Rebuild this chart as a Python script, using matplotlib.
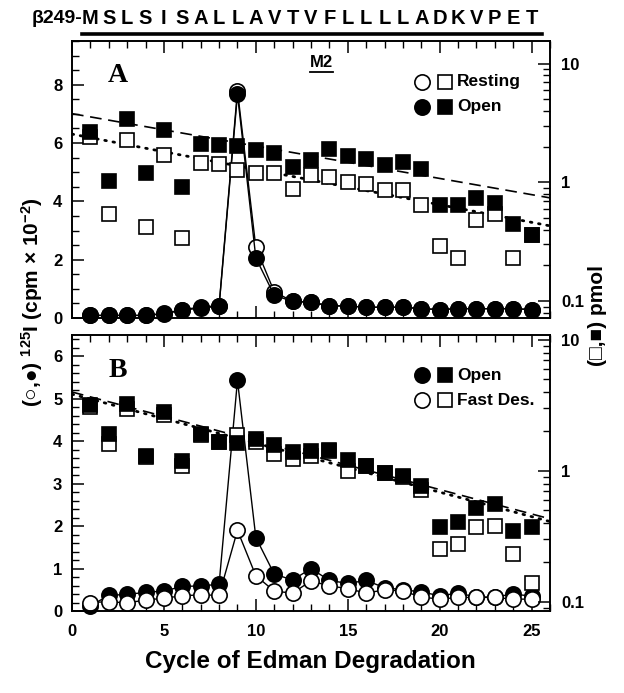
import matplotlib
matplotlib.use('Agg')
import matplotlib.pyplot as plt
import matplotlib.transforms as mtransforms
from matplotlib.lines import Line2D
from matplotlib.ticker import MultipleLocator, FixedLocator, LogLocator, NullFormatter, FixedFormatter

FONT = ['Liberation Sans', 'DejaVu Sans']
plt.rcParams['font.family'] = FONT
plt.rcParams['font.weight'] = 'bold'
plt.rcParams['mathtext.fontset'] = 'custom'
plt.rcParams['mathtext.rm'] = 'Liberation Sans:bold'
plt.rcParams['mathtext.bf'] = 'Liberation Sans:bold'
plt.rcParams['mathtext.it'] = 'Liberation Sans:bold'
plt.rcParams['axes.linewidth'] = 1.2

# ---------------- data ----------------
cycles = [1, 2, 3, 4, 5, 6, 7, 8, 9, 10, 11, 12, 13, 14, 15, 16, 17, 18, 19, 20, 21, 22, 23, 24, 25]
sequence = ['M', 'S', 'L', 'S', 'I', 'S', 'A', 'L', 'L', 'A', 'V', 'T', 'V', 'F', 'L',
            'L', 'L', 'L', 'A', 'D', 'K', 'V', 'P', 'E', 'T']

# Panel A: 125I cpm x 10^-2 (left axis)
A_resting_cpm = [0.09, 0.09, 0.09, 0.09, 0.16, 0.28, 0.38, 0.42, 7.80, 2.42, 0.90, 0.57, 0.54,
                 0.42, 0.41, 0.37, 0.37, 0.37, 0.32, 0.29, 0.32, 0.32, 0.32, 0.32, 0.29]
A_open_cpm = [0.09, 0.09, 0.09, 0.09, 0.14, 0.27, 0.34, 0.40, 7.67, 2.06, 0.78, 0.57, 0.54,
              0.42, 0.41, 0.37, 0.37, 0.37, 0.32, 0.29, 0.32, 0.32, 0.32, 0.32, 0.29]
# Panel A: pmol (right axis)
A_resting_pmol = [2.39, 0.54, 2.28, 0.42, 1.70, 0.34, 1.46, 1.44, 1.27, 1.20, 1.19, 0.88, 1.15,
                  1.12, 1.01, 0.97, 0.86, 0.87, 0.64, 0.29, 0.23, 0.48, 0.54, 0.23, 0.36]
A_open_pmol = [2.63, 1.03, 3.44, 1.21, 2.75, 0.92, 2.12, 2.07, 2.03, 1.87, 1.76, 1.34, 1.55,
               1.90, 1.67, 1.57, 1.41, 1.47, 1.29, 0.65, 0.65, 0.74, 0.67, 0.45, 0.36]

# Panel B
B_open_cpm = [0.12, 0.37, 0.39, 0.44, 0.47, 0.58, 0.59, 0.63, 5.43, 1.73, 0.87, 0.73, 1.00,
              0.72, 0.65, 0.72, 0.55, 0.50, 0.45, 0.36, 0.42, 0.33, 0.33, 0.40, 0.35]
B_fast_cpm = [0.20, 0.22, 0.19, 0.26, 0.30, 0.36, 0.38, 0.37, 1.90, 0.83, 0.47, 0.42, 0.71,
              0.59, 0.53, 0.42, 0.50, 0.47, 0.33, 0.28, 0.32, 0.32, 0.32, 0.28, 0.28]
B_open_pmol = [3.18, 1.91, 3.24, 1.30, 2.83, 1.19, 1.91, 1.65, 1.63, 1.75, 1.57, 1.40, 1.42,
               1.43, 1.21, 1.09, 0.96, 0.92, 0.77, 0.37, 0.41, 0.52, 0.56, 0.35, 0.37]
B_fast_pmol = [3.05, 1.60, 2.96, 1.28, 2.69, 1.09, 1.88, 1.65, 1.88, 1.67, 1.34, 1.23, 1.30,
               1.42, 1.00, 1.09, 0.96, 0.90, 0.72, 0.255, 0.275, 0.37, 0.38, 0.23, 0.138]

# exponential fit lines (end points at cycle 0 and 26)
fit_x = [0, 26]
A_open_fit = [3.79, 0.74]
A_resting_fit = [2.55, 0.43]
B_open_fit = [4.00, 0.43]
B_fast_fit = [3.85, 0.41]

x_ticks = [0, 5, 10, 15, 20, 25]
log_ticks = [0.1, 1, 10]
log_labels = ['0.1', '1', '10']

# ---------------- figure ----------------
fig = plt.figure(figsize=(6.24, 6.93), dpi=100)
axA = fig.add_axes([0.1154, 0.5411, 0.766, 0.3997])
axB = fig.add_axes([0.1154, 0.1183, 0.766, 0.3983])

TICK_FS = 12
MS_C = 11
MS_S = 9.5
MEW = 1.2

filled_c = dict(marker='o', ms=MS_C, mfc='black', mec='black', mew=MEW)
open_c = dict(marker='o', ms=MS_C, mfc='white', mec='black', mew=MEW)
filled_s = dict(marker='s', ms=MS_S, mfc='black', mec='black', mew=MEW, ls='none')
open_s = dict(marker='s', ms=MS_S, mfc='white', mec='black', mew=MEW, ls='none')


def style_axes(ax, ax2, ylim, ylim_r, ymajor, yminor, show_xlabels):
    ax.set_xlim(0, 26)
    ax.set_ylim(*ylim)
    ax.xaxis.set_major_locator(FixedLocator(x_ticks))
    ax.xaxis.set_minor_locator(MultipleLocator(1))
    ax.yaxis.set_major_locator(MultipleLocator(ymajor))
    ax.yaxis.set_minor_locator(MultipleLocator(yminor))
    ax.tick_params(axis='x', which='both', direction='in', top=True, bottom=True,
                   labelbottom=show_xlabels, labelsize=TICK_FS, pad=9)
    ax.tick_params(axis='y', which='both', direction='in', labelsize=TICK_FS, pad=7)
    ax.tick_params(which='major', length=8.5, width=1.1)
    ax.tick_params(which='minor', length=5, width=1.0)
    ax2.set_yscale('log')
    ax2.set_ylim(*ylim_r)
    ax2.yaxis.set_major_locator(FixedLocator(log_ticks))
    ax2.yaxis.set_major_formatter(FixedFormatter(log_labels))
    ax2.yaxis.set_minor_locator(LogLocator(base=10, subs=[2, 3, 4, 5, 6, 7, 8, 9]))
    ax2.yaxis.set_minor_formatter(NullFormatter())
    ax2.tick_params(axis='y', which='both', direction='in', labelsize=TICK_FS, pad=8)
    ax2.tick_params(axis='y', which='major', length=8.5, width=1.1)
    ax2.tick_params(axis='y', which='minor', length=5, width=1.0)
    for lab in ax.get_xticklabels() + ax.get_yticklabels() + ax2.get_yticklabels():
        lab.set_fontweight('bold')


def legend(ax, rows):
    xc, xs, xt = 0.7316, 0.780, 0.805
    for (y, cst, sst, label) in rows:
        ax.plot([xc], [y], transform=ax.transAxes, clip_on=False, **cst)
        ax.plot([xs], [y], transform=ax.transAxes, clip_on=False, **sst)
        ax.text(xt, y, label, transform=ax.transAxes, ha='left', va='center',
                fontsize=12.5, fontweight='bold')


# ---------- Panel A ----------
axA2 = axA.twinx()
axA.plot(cycles, A_resting_cpm, color='black', lw=1.0, clip_on=False, zorder=3, **open_c)
axA.plot(cycles, A_open_cpm, color='black', lw=1.0, clip_on=False, zorder=4, **filled_c)
axA2.plot(fit_x, A_open_fit, color='black', lw=1.2, ls=(0, (7, 4)), zorder=2)
axA2.plot(fit_x, A_resting_fit, color='black', lw=2.0, ls=(0, (0.6, 2.4)),
          dash_capstyle='round', zorder=2)
axA2.plot(cycles, A_resting_pmol, zorder=3, **open_s)
axA2.plot(cycles, A_open_pmol, zorder=4, **filled_s)
style_axes(axA, axA2, (0, 9.5), (0.072, 15.5), 2, 0.5, False)
legend(axA2, [(0.853, open_c, open_s, 'Resting'), (0.763, filled_c, filled_s, 'Open')])
axA2.text(0.096, 0.877, 'A', transform=axA2.transAxes, ha='center', va='center',
          fontsize=20, fontweight='bold', family=['Liberation Serif', 'DejaVu Serif'])
axA2.text(0.522, 0.924, 'M2', transform=axA2.transAxes, ha='center', va='center',
          fontsize=12, fontweight='bold')
axA2.plot([0.498, 0.546], [0.889, 0.889], transform=axA2.transAxes, color='black', lw=1.3)

# ---------- Panel B ----------
axB2 = axB.twinx()
axB.plot(cycles, B_open_cpm, color='black', lw=1.0, clip_on=False, zorder=3, **filled_c)
axB.plot(cycles, B_fast_cpm, color='black', lw=1.0, clip_on=False, zorder=4, **open_c)
axB2.plot(fit_x, B_open_fit, color='black', lw=1.2, ls=(0, (7, 4)), zorder=2)
axB2.plot(fit_x, B_fast_fit, color='black', lw=2.0, ls=(0, (0.6, 2.4)),
          dash_capstyle='round', zorder=2)
axB2.plot(cycles, B_fast_pmol, zorder=3, **open_s)
axB2.plot(cycles, B_open_pmol, zorder=4, **filled_s)
style_axes(axB, axB2, (0, 6.5), (0.085, 10.9), 1, 0.2, True)
legend(axB2, [(0.855, filled_c, filled_s, 'Open'), (0.764, open_c, open_s, 'Fast Des.')])
axB2.text(0.096, 0.873, 'B', transform=axB2.transAxes, ha='center', va='center',
          fontsize=20, fontweight='bold', family=['Liberation Serif', 'DejaVu Serif'])

# ---------- sequence on top ----------
trans = mtransforms.blended_transform_factory(axA.transData, fig.transFigure)
seq_y = 0.973
for c, letter in zip(cycles, sequence):
    fig.text(c, seq_y, letter, transform=trans, ha='center', va='center',
             fontsize=14.5, fontweight='bold')
fig.text(0.55, seq_y, 'β249-', transform=trans, ha='right', va='center',
         fontsize=14, fontweight='bold')
fig.add_artist(Line2D([0.131, 0.869], [0.951, 0.951], transform=fig.transFigure,
                      color='black', lw=2.6))

# ---------- axis labels ----------
fig.text(0.498, 0.045, 'Cycle of Edman Degradation', ha='center', va='center',
         fontsize=17.5, fontweight='bold')
fig.text(0.052, 0.564, r'(○,●) $^{125}$I (cpm × 10$^{-2}$)', rotation=90,
         ha='center', va='center', fontsize=15, fontweight='bold')
fig.text(0.958, 0.545, '(□,■) pmol', rotation=90, ha='center', va='center',
         fontsize=15, fontweight='bold')

fig.savefig('out.png', dpi=100)
